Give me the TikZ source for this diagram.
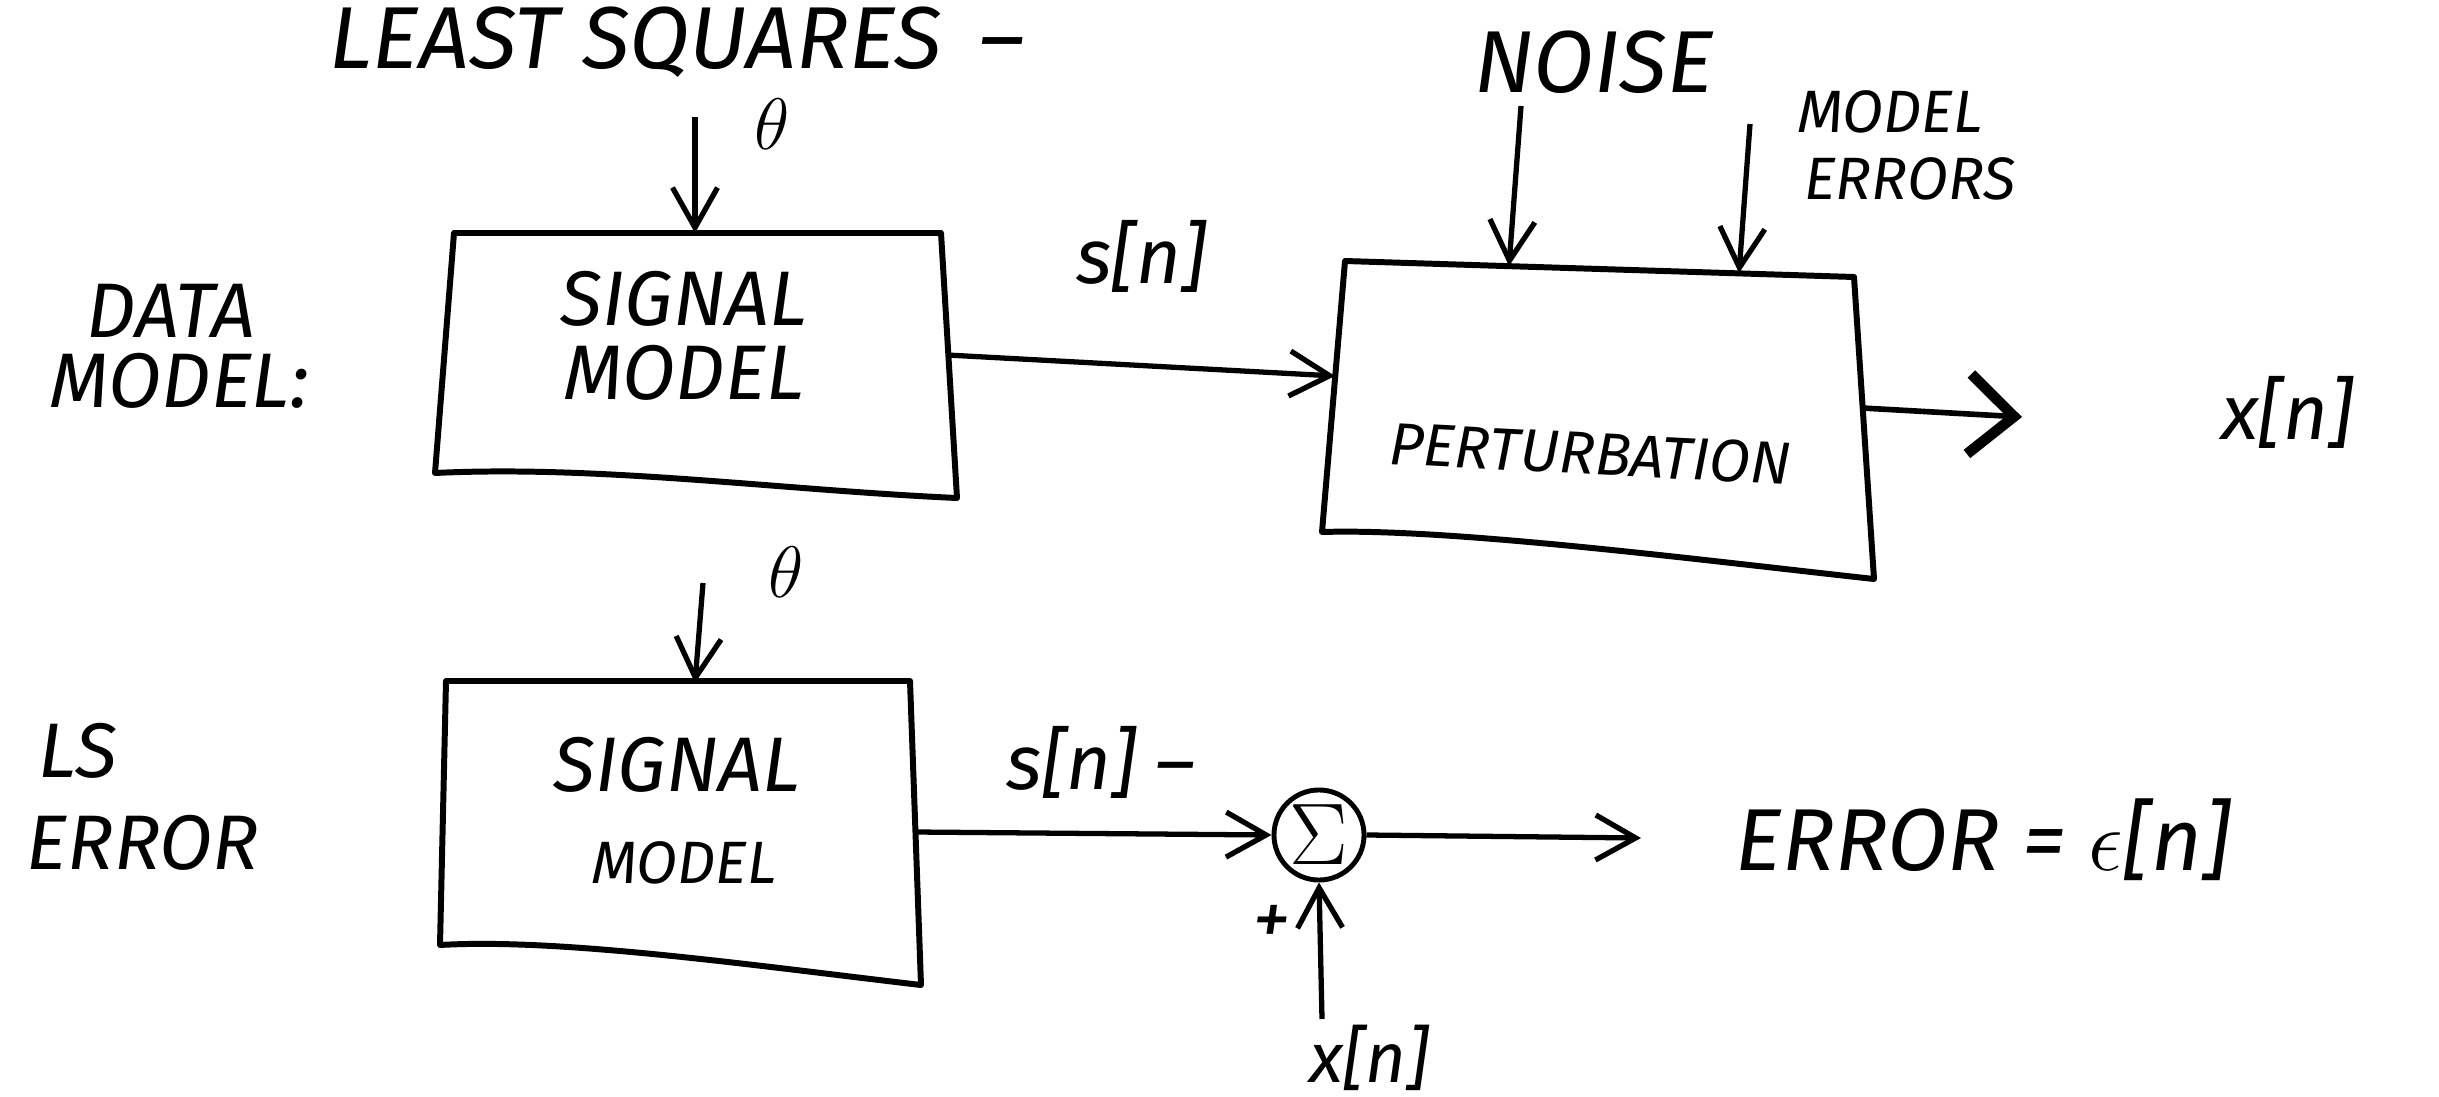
\documentclass[tikz,border=0pt]{standalone}
\usepackage{fontspec}
\setmainfont{Fira Sans}
\usetikzlibrary{arrows.meta}
\begin{document}
\begin{tikzpicture}[x=0.01cm,y=-0.01cm,
  hand/.style={font=\fontsize{22}{22}\selectfont\itshape, inner sep=0pt},
  bighand/.style={font=\fontsize{25}{25}\selectfont\itshape, inner sep=0pt},
  small/.style={font=\fontsize{17}{17}\selectfont\itshape, inner sep=0pt},
  boxline/.style={line width=1.7pt, line join=round},
  arr/.style={line width=1.5pt, -{Straight Barb[length=4mm,width=4.5mm,line width=1.5pt]}},
  bigarr/.style={line width=1.6pt, -{Straight Barb[length=4.5mm,width=8mm,line width=3pt]}},
  sumnode/.style={draw, circle, line width=1.4pt, minimum size=0.9cm, inner sep=0pt, font=\fontsize{24}{24}\selectfont}
]
\useasboundingbox (0,0) rectangle (2439,1097);

% ---------- title ----------
\node[bighand] (title) at (677,42) {LEAST SQUARES \,–};

% ---------- data model row ----------
\node[hand] (dataA) at (171,311) {DATA};
\node[hand] (dataB) at (179,381) {MODEL:};

% signal model box 1
\coordinate (b1tl) at (454,233);
\coordinate (b1tr) at (941,233);
\coordinate (b1br) at (957,498);
\coordinate (b1bl) at (435,473);
\draw[boxline] (b1tl) -- (b1tr) -- (b1br) .. controls (780,490) and (600,465) .. (b1bl) -- cycle;
\node[hand] (sm1a) at (684,299) {SIGNAL};
\node[hand] (sm1b) at (684,373) {MODEL};
\coordinate (b1in) at (695,233);
\coordinate (b1out) at (947,355);
\coordinate (th1start) at (695,117);
\node[hand] (th1) at (772,124) {$\theta$};
\draw[arr] (th1start) -- (b1in);

% perturbation box
\coordinate (b2tl) at (1345,261);
\coordinate (b2tr) at (1854,277);
\coordinate (b2br) at (1874,579);
\coordinate (b2bl) at (1322,532);
\draw[boxline] (b2tl) -- (b2tr) -- (b2br) .. controls (1700,560) and (1450,528) .. (b2bl) -- cycle;
\node[hand, font=\fontsize{17}{17}\selectfont\itshape, rotate=-3] (pert) at (1590,454) {PERTURBATION};
\coordinate (b2in) at (1335,376);
\coordinate (b2noise) at (1509,266);
\coordinate (b2me) at (1739,273);
\coordinate (b2out) at (1862,408);

\draw[arr] (b1out) -- node[hand, above=20pt, pos=0.5] (snA) {s[n]} (b2in);

\node[bighand] (noise) at (1594,62) {NOISE};
\coordinate (noisestart) at (1521,106);
\draw[arr] (noisestart) -- (b2noise);

\node[small] (meA) at (1890,112) {MODEL};
\node[small] (meB) at (1910,179) {ERRORS};
\coordinate (mestart) at (1750,124);
\draw[arr] (mestart) -- (b2me);

\coordinate (xend) at (2022,417);
\draw[bigarr] (b2out) -- (xend);
\node[hand] (xout) at (2287,412) {x[n]};

% ---------- LS error row ----------
\node[hand] (lsA) at (78,751) {LS};
\node[hand] (lsB) at (143,843) {ERROR};

\coordinate (b3tl) at (446,681);
\coordinate (b3tr) at (910,681);
\coordinate (b3br) at (921,985);
\coordinate (b3bl) at (440,945);
\draw[boxline] (b3tl) -- (b3tr) -- (b3br) .. controls (750,965) and (560,938) .. (b3bl) -- cycle;
\node[hand] (sm2a) at (677,765) {SIGNAL};
\node[small] (sm2b) at (684,863) {MODEL};
\coordinate (b3in) at (695,683);
\coordinate (b3out) at (915,832);
\coordinate (th2start) at (703,583);
\node[hand] (th2) at (786,572) {$\theta$};
\draw[arr] (th2start) -- (b3in);

\node[sumnode] (sum) at (1319,835) {$\Sigma$};
\draw[arr] (b3out) -- (sum.west);
\node[hand] (snB) at (1101,762) {s[n] –};
\node[hand] (plus) at (1272,925) {+};

\coordinate (xinstart) at (1322,1019);
\draw[arr] (xinstart) -- (sum.south);
\node[hand, font=\fontsize{20}{20}\selectfont\itshape] (xin) at (1369,1058) {x[n]};

\coordinate (errend) at (1641,838);
\draw[arr] (sum.east) -- (errend);
\node[bighand] (err) at (1983,840) {ERROR = $\epsilon$[n]};
\end{tikzpicture}
\end{document}
